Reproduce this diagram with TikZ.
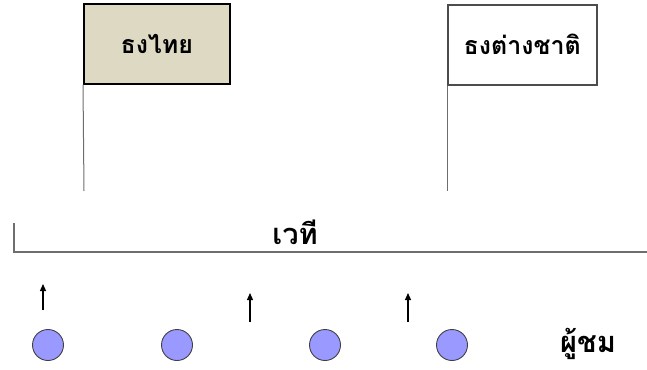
\documentclass[tikz,border=0pt]{standalone}
\usepackage{fontspec}
\newfontfamily\thaifont[Script=Thai]{Loma}
\usetikzlibrary{arrows.meta}
\definecolor{flagbeige}{HTML}{DDD9C3}
\definecolor{seatblue}{HTML}{9999FF}
\definecolor{linegray}{HTML}{6E6E6E}
\begin{document}
\begin{tikzpicture}[x=1pt,y=-1pt,
  flagbox/.style={draw, line width=1.6pt, minimum width=146pt, minimum height=80pt, inner sep=0pt, anchor=north west, font=\thaifont\bfseries\fontsize{25}{30}\selectfont},
  pole/.style={draw=linegray, line width=1pt},
  seat/.style={circle, draw=black!75, line width=0.9pt, fill=seatblue, minimum size=31pt, inner sep=0pt},
  label/.style={font=\thaifont\bfseries\fontsize{29}{34}\selectfont, inner sep=0pt},
  walk/.style={-{Triangle[length=7pt,width=6pt]}, line width=1.2pt}]
\useasboundingbox (0,0) rectangle (647,369);
% flags on their poles
\node[flagbox, fill=flagbeige, draw=black] (thai) at (83,3) {ธงไทย};
\node[flagbox, fill=white, draw=black!70, minimum width=149pt] (foreign) at (447,4) {ธงต่างชาติ};
\coordinate (thaibase) at (84,191);
\coordinate (foreignbase) at (447,191);
\draw[pole] (thai.south west) -- (thaibase);
\draw[pole] (foreign.south west) -- (foreignbase);
% stage
\coordinate (stagetop) at (14,223);
\coordinate (stagecorner) at (14,252);
\coordinate (stageend) at (647,252);
\draw[linegray, line width=1.6pt] (stagetop) -- (stagecorner) -- (stageend);
\node[label] (stage) at (295,232) {เวที};
% audience seats
\node[seat] (s1) at (48,345) {};
\node[seat] (s2) at (177,345) {};
\node[seat] (s3) at (325,345) {};
\node[seat] (s4) at (452,345) {};
\node[label] (audience) at (588,344) {ผู้ชม};
% walking directions
\coordinate (a1s) at (43,310); \coordinate (a1e) at (43,284);
\coordinate (a2s) at (250,322); \coordinate (a2e) at (250,293);
\coordinate (a3s) at (408,322); \coordinate (a3e) at (408,293);
\draw[walk] (a1s) -- (a1e);
\draw[walk] (a2s) -- (a2e);
\draw[walk] (a3s) -- (a3e);
\end{tikzpicture}
\end{document}
